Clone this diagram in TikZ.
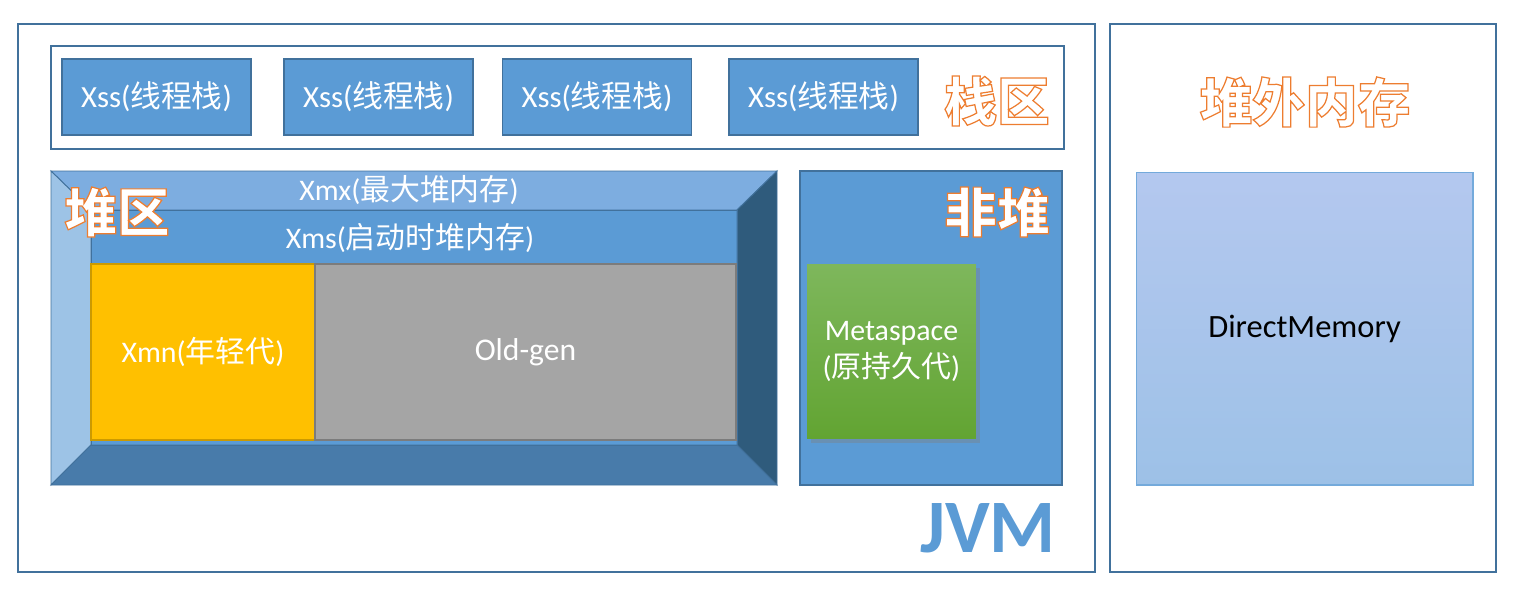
\documentclass[tikz,border=0pt]{standalone}
\usepackage{fontspec}
\setmainfont{Carlito}
\newfontfamily\cjk{Noto Sans CJK SC}
\usetikzlibrary{shadows}

\definecolor{frameblue}{HTML}{41719C}
\definecolor{boxblue}{HTML}{5B9BD5}
\definecolor{bevtop}{HTML}{7DADE0}
\definecolor{bevleft}{HTML}{9DC3E6}
\definecolor{bevright}{HTML}{2F5B7C}
\definecolor{bevbottom}{HTML}{487BAA}
\definecolor{youngyellow}{HTML}{FFC000}
\definecolor{oldgray}{HTML}{A5A5A5}
\definecolor{metatop}{HTML}{7EB75C}
\definecolor{metabot}{HTML}{62A432}
\definecolor{directtop}{HTML}{B4C8EF}
\definecolor{directbot}{HTML}{9DC1E7}

% white letters with an orange rim
\newcommand\rimtext[1]{\special{pdf:literal direct 2 Tr 0.7 w 0.93 0.49 0.19 RG}#1\special{pdf:literal direct 0 Tr}}

\tikzset{
  frame/.style={draw=frameblue, line width=1.3pt},
  xssbox/.style={draw=frameblue, fill=boxblue, text=white, line width=0.8pt,
    minimum width=3.78cm, minimum height=1.52cm, font=\fontsize{17.5}{20}\selectfont},
  bevel/.style={draw=frameblue, line width=0.5pt},
  genbox/.style={text=white, line width=0.8pt, minimum height=3.52cm,
    font=\fontsize{17}{20}\selectfont},
  areatitle/.style={text=white, font=\fontsize{30}{34}\selectfont\bfseries\cjk},
}

\begin{document}
\begin{tikzpicture}[x=0.02cm, y=-0.02cm]
		\useasboundingbox (0,0) rectangle (1518,592);
		% outer frames
		\node[frame, minimum width=21.54cm, minimum height=10.96cm] (jvm) at (556.5,298) {};
		\node[frame, minimum width=7.72cm, minimum height=10.96cm] (offheap) at (1303,298) {};
		% stack area
		\node[frame, minimum width=20.26cm, minimum height=2.06cm] (stack) at (557.5,97.5) {};
		\foreach \i/\x in {1/156.5, 2/378.5, 3/597, 4/823.5}
		\node[xssbox] (xss\i) at (\x,97) {Xss({\cjk 线程栈})};
		\node[areatitle] (stacktitle) at (997,101) {\rimtext{栈区}};
		% heap bevel
		\coordinate (O1) at (51,171);
		\coordinate (O2) at (777,171);
		\coordinate (O3) at (777,485);
		\coordinate (O4) at (51,485);
		\coordinate (I1) at (91,210);
		\coordinate (I2) at (737,210);
		\coordinate (I3) at (737,445);
		\coordinate (I4) at (91,445);
		\fill[boxblue] (I1) rectangle (I3);
		\draw[bevel, fill=bevtop] (O1) -- (O2) -- (I2) -- (I1) -- cycle;
		\draw[bevel, fill=bevleft] (O1) -- (I1) -- (I4) -- (O4) -- cycle;
		\draw[bevel, fill=bevright] (O2) -- (O3) -- (I3) -- (I2) -- cycle;
		\draw[bevel, fill=bevbottom] (O4) -- (I4) -- (I3) -- (O3) -- cycle;
		\draw[bevel] (I1) rectangle (I3);
		\node[text=white, font=\fontsize{17}{20}\selectfont] (xmx) at (409,190) {Xmx({\cjk 最大堆内存})};
		\node[text=white, font=\fontsize{17}{20}\selectfont] (xms) at (410,238) {Xms({\cjk 启动时堆内存})};
		\node[genbox, draw=youngyellow!80!black, fill=youngyellow, minimum width=4.48cm] (xmn) at (203,352) {Xmn({\cjk 年轻代})};
		\node[genbox, draw=oldgray!75!black, fill=oldgray, minimum width=8.42cm, font=\fontsize{18}{20}\selectfont] (oldgen) at (525.5,352) {Old-gen};
		\node[areatitle] (heaptitle) at (117,212) {\rimtext{堆区}};
		% non-heap
		\node[draw=frameblue, fill=boxblue, line width=1pt, minimum width=5.24cm, minimum height=6.28cm] (nonheap) at (931,328) {};
		\node[areatitle] (nonheaptitle) at (997,212) {\rimtext{非堆}};
		\node[top color=metatop, bottom color=metabot, text=white, minimum width=3.38cm, minimum height=3.5cm,
			align=center, font=\fontsize{17}{21.5}\selectfont,
			drop shadow={opacity=0.4, shadow xshift=2pt, shadow yshift=-2pt}] (meta) at (891.5,351.5) {Metaspace\\({\cjk 原持久代})};
		% JVM label
		\node[text=boxblue, font=\fontsize{43}{48}\selectfont\bfseries] (jvmlabel) at (988,528) {JVM};
		% off-heap memory
		\node[areatitle] (offheaptitle) at (1305,102) {\rimtext{堆外内存}};
		\node[draw=boxblue!85!white, top color=directtop, bottom color=directbot, line width=0.6pt,
			minimum width=6.74cm, minimum height=6.26cm, font=\fontsize{18.5}{22}\selectfont] (direct) at (1304.5,328.5) {DirectMemory};
	\end{tikzpicture}
\end{document}
